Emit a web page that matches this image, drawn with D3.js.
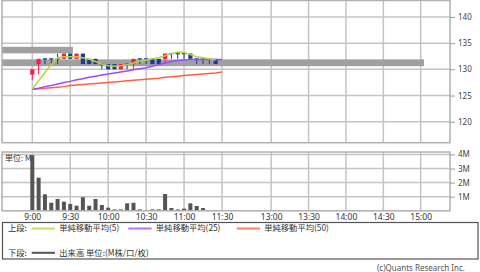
<!DOCTYPE html>
<html><head><meta charset="utf-8">
<script src="https://cdn.jsdelivr.net/npm/d3@7"></script>
<style>
html,body{margin:0;padding:0;background:#fff;}
svg{display:block;}
text{font-family:"Noto Sans CJK JP","Noto Sans",sans-serif;}
</style></head><body>
<svg id="c" width="480" height="272"></svg>
<script>
// ---- data ----
const slotTimes = ["9:00","9:05","9:10","9:15","9:20","9:25","9:30","9:35","9:40","9:45",
  "9:50","9:55","10:00","10:05","10:10","10:15","10:20","10:25","10:30","10:35",
  "10:40","10:45","10:50","10:55","11:00","11:05","11:10","11:15","11:20","11:25"];
const maTimes = slotTimes.concat(["11:30"]);
const opens  = [129,131,132,132,132,132,133,132,133,132,132,131,131,131,130,131,131,132,132,132,132,132,133,133,133,133,132,132,132,132];
const highs  = [130,132,132,132,133,133,133,133,133,132,132,131,131,131,131,131,132,132,132,132,132,133,133,133,133,133,132,132,132,132];
const lows   = [128,129,131,131,131,132,132,132,131,131,131,130,130,130,130,130,130,131,131,131,131,131,132,132,132,132,131,131,131,131];
const closes = [130,132,132,132,132,133,132,133,131,131,131,131,130,130,131,131,132,132,132,131,131,133,133,133,133,132,132,132,132,131];
const volumes = [3.95,2.35,1.17,0.57,0.84,0.65,0.48,0.36,0.96,0.36,0.84,0.41,0.22,0.10,0.10,0.53,0.57,0.10,0.05,0.10,0.10,1.19,0.20,0.10,0.15,0.53,0.34,0.20,0.05,0.05];
const ma5  = [126.2,127.8,129.4,130.9,132.2,132.4,132.4,132.4,132.2,131.9,131.5,131.0,130.7,130.6,130.7,130.9,131.2,131.6,131.8,132.0,132.2,132.6,133.0,133.3,133.2,132.8,132.4,132.2,132.0,131.8];
const ma25 = [126.2,126.4,126.7,126.9,127.2,127.5,127.7,128.0,128.2,128.5,128.7,128.9,129.1,129.3,129.5,129.7,129.9,130.1,130.3,130.6,130.9,131.2,131.5,131.7,131.8,131.9,131.9,131.9,131.9,131.9,131.9];
const ma50 = [126.2,126.3,126.4,126.5,126.6,126.7,126.9,127.0,127.1,127.2,127.3,127.4,127.5,127.6,127.7,127.8,127.9,128.0,128.1,128.2,128.3,128.5,128.6,128.7,128.8,128.9,129.0,129.1,129.2,129.3,129.5];
const profileLow  = [133.05,130.6];
const profileHigh = [134.3,131.9];
const profileVol  = [2.0,11.9];
const priceTicks = [120,125,130,135,140];
const volTicks = [1,2,3,4];
const volTickLabels = ["1M","2M","3M","4M"];
const timeTicks = ["9:00","9:30","10:00","10:30","11:00","11:30","13:00","13:30","14:00","14:30","15:00"];
const legendTop = ["単純移動平均(5)","単純移動平均(25)","単純移動平均(50)"];
const legendBottom = "出来高 単位:(M株/口/枚)";

// ---- layout ----
const svg = d3.select('#c');
const L = 2, R = 450;
const tTop = 0.5, tBot = 142.7, vTop = 152, vBot = 210.8;
const toMin = s => { const [h,m] = s.split(':').map(Number); return h*60+m; };
const x = d3.scaleLinear().domain([540,690,750,900]).range([32.3,222,233.8,420.7]);
const y = d3.scaleLinear().domain([116,143.23]).range([tBot,0]);
const yv = d3.scaleLinear().domain([0,4]).range([vBot,154.4]);
const px = d3.scaleLinear().domain([0,11.9]).range([0,422]);
const gridC = '#c4c4c4';
const cRed = '#ff1848', cBlue = '#183c9c';

function grid(g, yTop, yBottom, yVals, ys){
  g.selectAll('.vg').data(timeTicks).join('line')
    .attr('x1', d=>x(toMin(d))).attr('x2', d=>x(toMin(d)))
    .attr('y1', yTop).attr('y2', yBottom).attr('stroke', gridC).attr('stroke-width',1.5);
  g.selectAll('.hg').data(yVals).join('line')
    .attr('x1', L).attr('x2', R).attr('y1', d=>ys(d)).attr('y2', d=>ys(d))
    .attr('stroke', gridC).attr('stroke-width',1.5);
}

// top panel
const gT = svg.append('g');
grid(gT, tTop, tBot, priceTicks, y);
gT.selectAll('.pb').data(profileVol).join('rect')
  .attr('x', L).attr('y', (d,i)=>y(profileHigh[i]))
  .attr('width', d=>px(d)).attr('height', (d,i)=>y(profileLow[i])-y(profileHigh[i]))
  .attr('fill','#a0a0a0');
gT.append('rect').attr('x',L).attr('y',tTop).attr('width',R-L).attr('height',tBot-tTop)
  .attr('fill','none').attr('stroke','#b0b0b0').attr('stroke-width',1.5);
const yAx = d3.axisRight(y).tickValues(priceTicks).tickSize(5).tickPadding(3);
const ga = svg.append('g').attr('transform',`translate(${R},0)`).call(yAx);
ga.select('.domain').remove();
ga.selectAll('line').attr('stroke','#999');
ga.selectAll('text').attr('font-size',8).attr('fill','#444').style('font-family','"Noto Sans",sans-serif');

// candles
const cw = 4.2;
const candles = svg.append('g');
slotTimes.forEach((t,i)=>{
  const cx = x(toMin(t));
  const o=opens[i], c=closes[i];
  const col = c>o ? cRed : cBlue;
  candles.append('line').attr('x1',cx).attr('x2',cx).attr('y1',y(highs[i])).attr('y2',y(lows[i]))
    .attr('stroke',col).attr('stroke-width',1);
  if (o===c){
    candles.append('rect').attr('x',cx-cw/2).attr('y',y(o)-0.7).attr('width',cw).attr('height',1.4).attr('fill','#2850a8');
  } else {
    candles.append('rect').attr('x',cx-cw/2).attr('y',y(Math.max(o,c))).attr('width',cw)
      .attr('height',Math.abs(y(o)-y(c))).attr('fill',col);
  }
});

// moving averages
const line = d3.line().x(d=>x(toMin(d[0]))).y(d=>y(d[1]));
const maG = svg.append('g').attr('fill','none').attr('stroke-width',1.5);
maG.append('path').attr('d', line(ma50.map((v,i)=>[maTimes[i],v]))).attr('stroke','#ff6040');
maG.append('path').attr('d', line(ma25.map((v,i)=>[maTimes[i],v]))).attr('stroke','#a048ff');
maG.append('path').attr('d', line(ma5.map((v,i)=>[slotTimes[i],v]))).attr('stroke','#b8d43a');

// volume panel
const gV = svg.append('g');
grid(gV, vTop, vBot, volTicks, yv);
gV.selectAll('.vb').data(volumes).join('rect')
  .attr('x',(d,i)=>x(toMin(slotTimes[i]))-2).attr('width',4)
  .attr('y',d=>yv(d)).attr('height',d=>vBot-yv(d)).attr('fill','#555');
gV.append('rect').attr('x',L).attr('y',vTop).attr('width',R-L).attr('height',vBot-vTop)
  .attr('fill','none').attr('stroke','#b0b0b0').attr('stroke-width',1.5);
const vAx = d3.axisRight(yv).tickValues(volTicks).tickSize(5).tickPadding(3).tickFormat((d,i)=>volTickLabels[i]);
const gva = svg.append('g').attr('transform',`translate(${R},0)`).call(vAx);
gva.select('.domain').remove();
gva.selectAll('line').attr('stroke','#999');
gva.selectAll('text').attr('font-size',8).attr('fill','#444').style('font-family','"Noto Sans",sans-serif');
svg.append('text').attr('x',5).attr('y',160.5).attr('font-size',8).attr('fill','#333').text('単位: M');

// time axis
const xAx = d3.axisBottom(x).tickValues(timeTicks.map(toMin)).tickSize(0).tickPadding(2)
  .tickFormat((d,i)=>timeTicks[i]);
const gx = svg.append('g').attr('transform',`translate(0,${vBot+1})`).call(xAx);
gx.select('.domain').remove();
gx.selectAll('text').attr('font-size',8.5).attr('fill','#333').style('font-family','"Noto Sans",sans-serif');

// legend
const lg = svg.append('g');
lg.append('rect').attr('x',2.5).attr('y',222.5).attr('width',475.5).attr('height',36.5)
  .attr('fill','none').attr('stroke','#555').attr('stroke-width',1.2);
const fs = 8.3;
lg.append('text').attr('x',8).attr('y',231.3).attr('font-size',fs).attr('fill','#333').text('上段:');
const legCols = ['#c0e060','#b870ff','#ff8060'];
const legX = [31.7,128.3,236.7];
legendTop.forEach((t,i)=>{
  lg.append('line').attr('x1',legX[i]).attr('x2',legX[i]+23.3).attr('y1',228.5).attr('y2',228.5)
    .attr('stroke',legCols[i]).attr('stroke-width',2);
  lg.append('text').attr('x',legX[i]+27.5).attr('y',231.3).attr('font-size',fs).attr('fill','#333').text(t);
});
lg.append('text').attr('x',8).attr('y',255.6).attr('font-size',fs).attr('fill','#333').text('下段:');
lg.append('line').attr('x1',31.7).attr('x2',55).attr('y1',252.8).attr('y2',252.8).attr('stroke','#555').attr('stroke-width',2);
lg.append('text').attr('x',59.3).attr('y',255.6).attr('font-size',fs).attr('fill','#333').text(legendBottom);

svg.append('text').attr('x',465).attr('y',270.5).attr('text-anchor','end').attr('font-size',8)
  .attr('fill','#555').style('font-family','"Noto Sans",sans-serif').text('(c)Quants Research Inc.');
</script>
</body></html>
